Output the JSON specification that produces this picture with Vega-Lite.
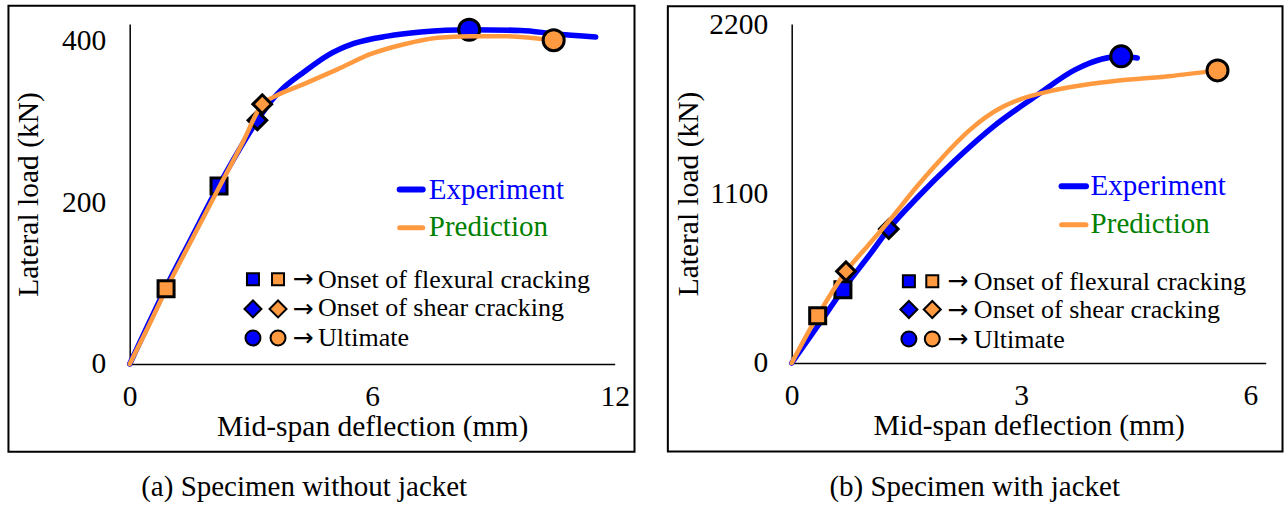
{
  "$schema": "https://vega.github.io/schema/vega-lite/v6.json",
  "background": "white",
  "padding": {"left": 6.7, "top": 4, "right": 0, "bottom": 0},
  "spacing": 31,
  "config": {
    "font": "Liberation Serif",
    "view": {"stroke": null},
    "axis": {"grid": false, "ticks": false, "domainColor": "black", "domainWidth": 1.5, "labelFont": "Liberation Serif", "labelFontSize": 29.5, "labelColor": "black", "titleFont": "Liberation Serif", "titleFontSize": 29.5, "titleFontWeight": "normal", "titleColor": "black", "labelPadding": 24, "labelFlush": false, "format": "d"},
    "title": {"font": "Liberation Serif", "fontSize": 29, "fontWeight": "normal", "color": "black"},
    "text": {"font": "Liberation Serif"}
  },
  "datasets": {
    "curves": [
      {"panel": "a", "series": "Experiment", "x": 0, "y": 0},
      {"panel": "a", "series": "Experiment", "x": 0.45, "y": 48},
      {"panel": "a", "series": "Experiment", "x": 0.9, "y": 95},
      {"panel": "a", "series": "Experiment", "x": 1.5, "y": 153},
      {"panel": "a", "series": "Experiment", "x": 2.21, "y": 221},
      {"panel": "a", "series": "Experiment", "x": 2.7, "y": 264},
      {"panel": "a", "series": "Experiment", "x": 3.16, "y": 301},
      {"panel": "a", "series": "Experiment", "x": 3.5, "y": 325},
      {"panel": "a", "series": "Experiment", "x": 3.74, "y": 338},
      {"panel": "a", "series": "Experiment", "x": 4.32, "y": 361},
      {"panel": "a", "series": "Experiment", "x": 4.89, "y": 381},
      {"panel": "a", "series": "Experiment", "x": 5.55, "y": 396},
      {"panel": "a", "series": "Experiment", "x": 6.38, "y": 405},
      {"panel": "a", "series": "Experiment", "x": 7.2, "y": 410},
      {"panel": "a", "series": "Experiment", "x": 8.4, "y": 413},
      {"panel": "a", "series": "Experiment", "x": 9.68, "y": 412},
      {"panel": "a", "series": "Experiment", "x": 10.5, "y": 408},
      {"panel": "a", "series": "Experiment", "x": 11.53, "y": 404},
      {"panel": "a", "series": "Prediction", "x": 0, "y": 0},
      {"panel": "a", "series": "Prediction", "x": 0.45, "y": 45},
      {"panel": "a", "series": "Prediction", "x": 0.9, "y": 92},
      {"panel": "a", "series": "Prediction", "x": 1.5, "y": 150},
      {"panel": "a", "series": "Prediction", "x": 2.21, "y": 218},
      {"panel": "a", "series": "Prediction", "x": 2.8, "y": 274},
      {"panel": "a", "series": "Prediction", "x": 3.28, "y": 321},
      {"panel": "a", "series": "Prediction", "x": 3.57, "y": 330},
      {"panel": "a", "series": "Prediction", "x": 4.32, "y": 346},
      {"panel": "a", "series": "Prediction", "x": 5.14, "y": 364},
      {"panel": "a", "series": "Prediction", "x": 5.97, "y": 383},
      {"panel": "a", "series": "Prediction", "x": 6.79, "y": 395},
      {"panel": "a", "series": "Prediction", "x": 7.62, "y": 403},
      {"panel": "a", "series": "Prediction", "x": 8.4, "y": 405},
      {"panel": "a", "series": "Prediction", "x": 9.26, "y": 405},
      {"panel": "a", "series": "Prediction", "x": 10.49, "y": 400},
      {"panel": "b", "series": "Experiment", "x": 0, "y": 0},
      {"panel": "b", "series": "Experiment", "x": 0.34, "y": 240},
      {"panel": "b", "series": "Experiment", "x": 0.67, "y": 476},
      {"panel": "b", "series": "Experiment", "x": 1.0, "y": 690},
      {"panel": "b", "series": "Experiment", "x": 1.27, "y": 870},
      {"panel": "b", "series": "Experiment", "x": 1.66, "y": 1082},
      {"panel": "b", "series": "Experiment", "x": 2.1, "y": 1298},
      {"panel": "b", "series": "Experiment", "x": 2.67, "y": 1547},
      {"panel": "b", "series": "Experiment", "x": 3.19, "y": 1731},
      {"panel": "b", "series": "Experiment", "x": 3.71, "y": 1904},
      {"panel": "b", "series": "Experiment", "x": 4.06, "y": 1973},
      {"panel": "b", "series": "Experiment", "x": 4.31, "y": 1990},
      {"panel": "b", "series": "Experiment", "x": 4.52, "y": 1979},
      {"panel": "b", "series": "Prediction", "x": 0, "y": 0},
      {"panel": "b", "series": "Prediction", "x": 0.34, "y": 307},
      {"panel": "b", "series": "Prediction", "x": 0.71, "y": 595},
      {"panel": "b", "series": "Prediction", "x": 1.01, "y": 769},
      {"panel": "b", "series": "Prediction", "x": 1.27, "y": 920},
      {"panel": "b", "series": "Prediction", "x": 1.66, "y": 1158},
      {"panel": "b", "series": "Prediction", "x": 1.88, "y": 1283},
      {"panel": "b", "series": "Prediction", "x": 2.1, "y": 1402},
      {"panel": "b", "series": "Prediction", "x": 2.32, "y": 1508},
      {"panel": "b", "series": "Prediction", "x": 2.54, "y": 1596},
      {"panel": "b", "series": "Prediction", "x": 2.75, "y": 1660},
      {"panel": "b", "series": "Prediction", "x": 2.97, "y": 1708},
      {"panel": "b", "series": "Prediction", "x": 3.41, "y": 1768},
      {"panel": "b", "series": "Prediction", "x": 3.84, "y": 1806},
      {"panel": "b", "series": "Prediction", "x": 4.28, "y": 1833},
      {"panel": "b", "series": "Prediction", "x": 4.93, "y": 1861},
      {"panel": "b", "series": "Prediction", "x": 5.57, "y": 1899}
    ],
    "markers": [
      {"panel": "a", "series": "Experiment", "stage": "flexural", "x": 2.21, "y": 220},
      {"panel": "a", "series": "Experiment", "stage": "shear", "x": 3.16, "y": 301},
      {"panel": "a", "series": "Experiment", "stage": "ultimate", "x": 8.4, "y": 413},
      {"panel": "a", "series": "Prediction", "stage": "flexural", "x": 0.9, "y": 93},
      {"panel": "a", "series": "Prediction", "stage": "shear", "x": 3.28, "y": 321},
      {"panel": "a", "series": "Prediction", "stage": "ultimate", "x": 10.49, "y": 400},
      {"panel": "b", "series": "Experiment", "stage": "flexural", "x": 0.67, "y": 476},
      {"panel": "b", "series": "Experiment", "stage": "shear", "x": 1.27, "y": 870},
      {"panel": "b", "series": "Experiment", "stage": "ultimate", "x": 4.31, "y": 1990},
      {"panel": "b", "series": "Prediction", "stage": "flexural", "x": 0.34, "y": 307},
      {"panel": "b", "series": "Prediction", "stage": "shear", "x": 0.71, "y": 595},
      {"panel": "b", "series": "Prediction", "stage": "ultimate", "x": 5.57, "y": 1899}
    ]
  },
  "hconcat": [
    {
      "width": 485,
      "height": 340,
      "data": {"values": [{}]},
      "title": {"text": "(a) Specimen without jacket", "orient": "bottom", "offset": 20, "dx": -68, "anchor": "middle"},
      "layer": [
        {"mark": {"type": "rect", "fillOpacity": 0, "stroke": "black", "strokeWidth": 2},
         "encoding": {
           "x": {"datum": -3.0, "type": "quantitative", "scale": {"domain": [0, 12], "nice": false, "zero": false}, "axis": {"values": [0, 6, 12], "title": "Mid-span deflection (mm)", "labelPadding": 19, "titlePadding": 1}},
           "x2": {"datum": 12.49},
           "y": {"datum": 442.4, "type": "quantitative", "scale": {"domain": [0, 420], "nice": false}, "axis": {"values": [0, 200, 400], "title": "Lateral load (kN)", "labelPadding": 24, "titlePadding": 18}},
           "y2": {"datum": -108.3}
         }},
        {"data": {"name": "curves"}, "transform": [{"filter": "datum.panel === 'a' && datum.series === 'Experiment'"}],
         "mark": {"type": "line", "interpolate": "monotone", "strokeWidth": 5.5, "strokeCap": "round"},
         "encoding": {"x": {"field": "x", "type": "quantitative"}, "y": {"field": "y", "type": "quantitative"},
           "color": {"field": "series", "type": "nominal", "scale": {"domain": ["Experiment", "Prediction"], "range": ["#0000FF", "#FF9A40"]}, "legend": null}}},
        {"data": {"name": "markers"}, "transform": [{"filter": "datum.panel === 'a' && datum.series === 'Experiment'"}],
         "mark": {"type": "point", "filled": true, "stroke": "black", "strokeWidth": 3, "opacity": 1},
         "encoding": {"x": {"field": "x", "type": "quantitative"}, "y": {"field": "y", "type": "quantitative"},
           "color": {"field": "series", "type": "nominal", "legend": null},
           "shape": {"field": "stage", "type": "nominal", "scale": {"domain": ["flexural", "shear", "ultimate"], "range": ["square", "diamond", "circle"]}, "legend": null},
           "size": {"field": "stage", "type": "ordinal", "scale": {"domain": ["flexural", "shear", "ultimate"], "range": [256, 441, 361]}, "legend": null}}},
        {"data": {"name": "curves"}, "transform": [{"filter": "datum.panel === 'a' && datum.series === 'Prediction'"}],
         "mark": {"type": "line", "interpolate": "monotone", "strokeWidth": 4.5, "strokeCap": "round"},
         "encoding": {"x": {"field": "x", "type": "quantitative"}, "y": {"field": "y", "type": "quantitative"},
           "color": {"field": "series", "type": "nominal", "legend": null}}},
        {"data": {"name": "markers"}, "transform": [{"filter": "datum.panel === 'a' && datum.series === 'Prediction'"}],
         "mark": {"type": "point", "filled": true, "stroke": "black", "strokeWidth": 3, "opacity": 1},
         "encoding": {"x": {"field": "x", "type": "quantitative"}, "y": {"field": "y", "type": "quantitative"},
           "color": {"field": "series", "type": "nominal", "legend": null},
           "shape": {"field": "stage", "type": "nominal", "legend": null},
           "size": {"field": "stage", "type": "ordinal", "legend": null}}},
        {"mark": {"type": "rule", "color": "#0000FF", "strokeWidth": 6, "strokeCap": "round"},
         "encoding": {"x": {"datum": 6.68, "type": "quantitative"}, "x2": {"datum": 7.25}, "y": {"datum": 215.7, "type": "quantitative"}}},
        {"mark": {"type": "text", "text": "Experiment", "align": "left", "baseline": "alphabetic", "fontSize": 29, "color": "#0000FF"},
         "encoding": {"x": {"datum": 7.4, "type": "quantitative"}, "y": {"datum": 203.3, "type": "quantitative"}}},
        {"mark": {"type": "rule", "color": "#FF9A40", "strokeWidth": 5, "strokeCap": "round"},
         "encoding": {"x": {"datum": 6.68, "type": "quantitative"}, "x2": {"datum": 7.25}, "y": {"datum": 168.2, "type": "quantitative"}}},
        {"mark": {"type": "text", "text": "Prediction", "align": "left", "baseline": "alphabetic", "fontSize": 29, "color": "#008000"},
         "encoding": {"x": {"datum": 7.4, "type": "quantitative"}, "y": {"datum": 158, "type": "quantitative"}}},
        {"mark": {"type": "point", "shape": "square", "filled": true, "fill": "#0000FF", "stroke": "black", "strokeWidth": 2, "size": 144, "opacity": 1},
         "encoding": {"x": {"datum": 3.05, "type": "quantitative"}, "y": {"datum": 104.7, "type": "quantitative"}}},
        {"mark": {"type": "point", "shape": "square", "filled": true, "fill": "#FF9A40", "stroke": "black", "strokeWidth": 2, "size": 144, "opacity": 1},
         "encoding": {"x": {"datum": 3.67, "type": "quantitative"}, "y": {"datum": 104.7, "type": "quantitative"}}},
        {"mark": {"type": "point", "shape": "diamond", "filled": true, "fill": "#0000FF", "stroke": "black", "strokeWidth": 2, "size": 289, "opacity": 1},
         "encoding": {"x": {"datum": 3.05, "type": "quantitative"}, "y": {"datum": 68, "type": "quantitative"}}},
        {"mark": {"type": "point", "shape": "diamond", "filled": true, "fill": "#FF9A40", "stroke": "black", "strokeWidth": 2, "size": 289, "opacity": 1},
         "encoding": {"x": {"datum": 3.67, "type": "quantitative"}, "y": {"datum": 68, "type": "quantitative"}}},
        {"mark": {"type": "point", "shape": "circle", "filled": true, "fill": "#0000FF", "stroke": "black", "strokeWidth": 2, "size": 225, "opacity": 1},
         "encoding": {"x": {"datum": 3.05, "type": "quantitative"}, "y": {"datum": 32.2, "type": "quantitative"}}},
        {"mark": {"type": "point", "shape": "circle", "filled": true, "fill": "#FF9A40", "stroke": "black", "strokeWidth": 2, "size": 225, "opacity": 1},
         "encoding": {"x": {"datum": 3.67, "type": "quantitative"}, "y": {"datum": 32.2, "type": "quantitative"}}},
        {"mark": {"type": "text", "text": "→", "align": "left", "baseline": "middle", "fontSize": 25, "font": "DejaVu Sans", "color": "black"},
         "encoding": {"x": {"datum": 4.03, "type": "quantitative"}, "y": {"datum": 104.7, "type": "quantitative"}}},
        {"mark": {"type": "text", "text": "→", "align": "left", "baseline": "middle", "fontSize": 25, "font": "DejaVu Sans", "color": "black"},
         "encoding": {"x": {"datum": 4.03, "type": "quantitative"}, "y": {"datum": 68, "type": "quantitative"}}},
        {"mark": {"type": "text", "text": "→", "align": "left", "baseline": "middle", "fontSize": 25, "font": "DejaVu Sans", "color": "black"},
         "encoding": {"x": {"datum": 4.03, "type": "quantitative"}, "y": {"datum": 32.2, "type": "quantitative"}}},
        {"mark": {"type": "text", "text": "Onset of flexural cracking", "align": "left", "baseline": "alphabetic", "fontSize": 26, "color": "black"},
         "encoding": {"x": {"datum": 4.66, "type": "quantitative"}, "y": {"datum": 94, "type": "quantitative"}}},
        {"mark": {"type": "text", "text": "Onset of shear cracking", "align": "left", "baseline": "alphabetic", "fontSize": 26, "color": "black"},
         "encoding": {"x": {"datum": 4.66, "type": "quantitative"}, "y": {"datum": 59, "type": "quantitative"}}},
        {"mark": {"type": "text", "text": "Ultimate", "align": "left", "baseline": "alphabetic", "fontSize": 26, "color": "black"},
         "encoding": {"x": {"datum": 4.66, "type": "quantitative"}, "y": {"datum": 21.9, "type": "quantitative"}}}
      ]
    },
    {
      "width": 474,
      "height": 339,
      "data": {"values": [{}]},
      "title": {"text": "(b) Specimen with jacket", "orient": "bottom", "offset": 20, "dx": -54, "anchor": "middle"},
      "layer": [
        {"mark": {"type": "rect", "fillOpacity": 0, "stroke": "black", "strokeWidth": 2},
         "encoding": {
           "x": {"datum": -1.62, "type": "quantitative", "scale": {"domain": [0, 6.2], "nice": false, "zero": false}, "axis": {"values": [0, 3, 6], "title": "Mid-span deflection (mm)", "labelPadding": 19, "titlePadding": 1}},
           "x2": {"datum": 6.42},
           "y": {"datum": 2315, "type": "quantitative", "scale": {"domain": [0, 2200], "nice": false}, "axis": {"values": [0, 1100, 2200], "title": "Lateral load (kN)", "labelPadding": 24, "titlePadding": 5}},
           "y2": {"datum": -575}
         }},
        {"data": {"name": "curves"}, "transform": [{"filter": "datum.panel === 'b' && datum.series === 'Experiment'"}],
         "mark": {"type": "line", "interpolate": "monotone", "strokeWidth": 5.5, "strokeCap": "round"},
         "encoding": {"x": {"field": "x", "type": "quantitative"}, "y": {"field": "y", "type": "quantitative"},
           "color": {"field": "series", "type": "nominal", "scale": {"domain": ["Experiment", "Prediction"], "range": ["#0000FF", "#FF9A40"]}, "legend": null}}},
        {"data": {"name": "markers"}, "transform": [{"filter": "datum.panel === 'b' && datum.series === 'Experiment'"}],
         "mark": {"type": "point", "filled": true, "stroke": "black", "strokeWidth": 3, "opacity": 1},
         "encoding": {"x": {"field": "x", "type": "quantitative"}, "y": {"field": "y", "type": "quantitative"},
           "color": {"field": "series", "type": "nominal", "legend": null},
           "shape": {"field": "stage", "type": "nominal", "scale": {"domain": ["flexural", "shear", "ultimate"], "range": ["square", "diamond", "circle"]}, "legend": null},
           "size": {"field": "stage", "type": "ordinal", "scale": {"domain": ["flexural", "shear", "ultimate"], "range": [256, 441, 361]}, "legend": null}}},
        {"data": {"name": "curves"}, "transform": [{"filter": "datum.panel === 'b' && datum.series === 'Prediction'"}],
         "mark": {"type": "line", "interpolate": "monotone", "strokeWidth": 4.5, "strokeCap": "round"},
         "encoding": {"x": {"field": "x", "type": "quantitative"}, "y": {"field": "y", "type": "quantitative"},
           "color": {"field": "series", "type": "nominal", "legend": null}}},
        {"data": {"name": "markers"}, "transform": [{"filter": "datum.panel === 'b' && datum.series === 'Prediction'"}],
         "mark": {"type": "point", "filled": true, "stroke": "black", "strokeWidth": 3, "opacity": 1},
         "encoding": {"x": {"field": "x", "type": "quantitative"}, "y": {"field": "y", "type": "quantitative"},
           "color": {"field": "series", "type": "nominal", "legend": null},
           "shape": {"field": "stage", "type": "nominal", "legend": null},
           "size": {"field": "stage", "type": "ordinal", "legend": null}}},
        {"mark": {"type": "rule", "color": "#0000FF", "strokeWidth": 6, "strokeCap": "round"},
         "encoding": {"x": {"datum": 3.53, "type": "quantitative"}, "x2": {"datum": 3.85}, "y": {"datum": 1147, "type": "quantitative"}}},
        {"mark": {"type": "text", "text": "Experiment", "align": "left", "baseline": "alphabetic", "fontSize": 29, "color": "#0000FF"},
         "encoding": {"x": {"datum": 3.91, "type": "quantitative"}, "y": {"datum": 1093, "type": "quantitative"}}},
        {"mark": {"type": "rule", "color": "#FF9A40", "strokeWidth": 5, "strokeCap": "round"},
         "encoding": {"x": {"datum": 3.53, "type": "quantitative"}, "x2": {"datum": 3.85}, "y": {"datum": 898, "type": "quantitative"}}},
        {"mark": {"type": "text", "text": "Prediction", "align": "left", "baseline": "alphabetic", "fontSize": 29, "color": "#008000"},
         "encoding": {"x": {"datum": 3.91, "type": "quantitative"}, "y": {"datum": 844, "type": "quantitative"}}},
        {"mark": {"type": "point", "shape": "square", "filled": true, "fill": "#0000FF", "stroke": "black", "strokeWidth": 2, "size": 144, "opacity": 1},
         "encoding": {"x": {"datum": 1.533, "type": "quantitative"}, "y": {"datum": 530, "type": "quantitative"}}},
        {"mark": {"type": "point", "shape": "square", "filled": true, "fill": "#FF9A40", "stroke": "black", "strokeWidth": 2, "size": 144, "opacity": 1},
         "encoding": {"x": {"datum": 1.839, "type": "quantitative"}, "y": {"datum": 530, "type": "quantitative"}}},
        {"mark": {"type": "point", "shape": "diamond", "filled": true, "fill": "#0000FF", "stroke": "black", "strokeWidth": 2, "size": 289, "opacity": 1},
         "encoding": {"x": {"datum": 1.533, "type": "quantitative"}, "y": {"datum": 347, "type": "quantitative"}}},
        {"mark": {"type": "point", "shape": "diamond", "filled": true, "fill": "#FF9A40", "stroke": "black", "strokeWidth": 2, "size": 289, "opacity": 1},
         "encoding": {"x": {"datum": 1.839, "type": "quantitative"}, "y": {"datum": 347, "type": "quantitative"}}},
        {"mark": {"type": "point", "shape": "circle", "filled": true, "fill": "#0000FF", "stroke": "black", "strokeWidth": 2, "size": 225, "opacity": 1},
         "encoding": {"x": {"datum": 1.533, "type": "quantitative"}, "y": {"datum": 156, "type": "quantitative"}}},
        {"mark": {"type": "point", "shape": "circle", "filled": true, "fill": "#FF9A40", "stroke": "black", "strokeWidth": 2, "size": 225, "opacity": 1},
         "encoding": {"x": {"datum": 1.839, "type": "quantitative"}, "y": {"datum": 156, "type": "quantitative"}}},
        {"mark": {"type": "text", "text": "→", "align": "left", "baseline": "middle", "fontSize": 25, "font": "DejaVu Sans", "color": "black"},
         "encoding": {"x": {"datum": 2.035, "type": "quantitative"}, "y": {"datum": 530, "type": "quantitative"}}},
        {"mark": {"type": "text", "text": "→", "align": "left", "baseline": "middle", "fontSize": 25, "font": "DejaVu Sans", "color": "black"},
         "encoding": {"x": {"datum": 2.035, "type": "quantitative"}, "y": {"datum": 347, "type": "quantitative"}}},
        {"mark": {"type": "text", "text": "→", "align": "left", "baseline": "middle", "fontSize": 25, "font": "DejaVu Sans", "color": "black"},
         "encoding": {"x": {"datum": 2.035, "type": "quantitative"}, "y": {"datum": 156, "type": "quantitative"}}},
        {"mark": {"type": "text", "text": "Onset of flexural cracking", "align": "left", "baseline": "alphabetic", "fontSize": 26, "color": "black"},
         "encoding": {"x": {"datum": 2.383, "type": "quantitative"}, "y": {"datum": 476, "type": "quantitative"}}},
        {"mark": {"type": "text", "text": "Onset of shear cracking", "align": "left", "baseline": "alphabetic", "fontSize": 26, "color": "black"},
         "encoding": {"x": {"datum": 2.383, "type": "quantitative"}, "y": {"datum": 292, "type": "quantitative"}}},
        {"mark": {"type": "text", "text": "Ultimate", "align": "left", "baseline": "alphabetic", "fontSize": 26, "color": "black"},
         "encoding": {"x": {"datum": 2.383, "type": "quantitative"}, "y": {"datum": 97, "type": "quantitative"}}}
      ]
    }
  ]
}
